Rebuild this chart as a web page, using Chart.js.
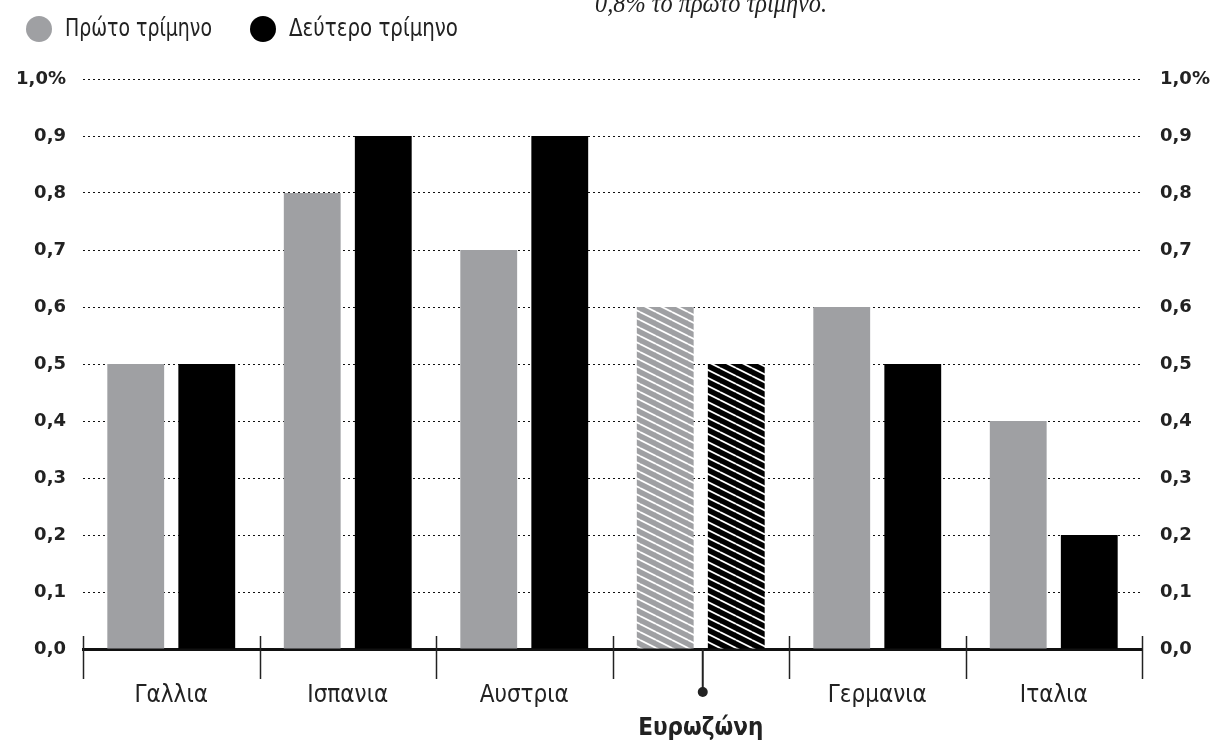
<!DOCTYPE html>
<html>
<head>
<meta charset="utf-8">
<script src="https://cdn.jsdelivr.net/npm/chart.js@4.4.1/dist/chart.umd.min.js"></script>
<style>
  html, body { margin: 0; padding: 0; background: #fff; }
  #wrap { width: 1213px; height: 744px; }
</style>
</head>
<body>
<div id="wrap"><canvas id="barChart" width="1213" height="744"></canvas></div>
<script>
// data
const categories = ['Γαλλια', 'Ισπανια', 'Αυστρια', 'Ευρωζώνη', 'Γερμανια', 'Ιταλια'];
const firstQuarter = [0.5, 0.8, 0.7, 0.6, 0.6, 0.4];
const secondQuarter = [0.5, 0.9, 0.9, 0.5, 0.5, 0.2];
const seriesNames = ['Πρώτο τρίμηνο', 'Δεύτερο τρίμηνο'];
const highlightIndex = 3;
const noteText = '0,8% το πρώτο τρίμηνο.';

const GREY = '#9fa0a3';
const BLACK = '#000000';
const TEXT = '#222222';
const LIGHT_FONT = '"Liberation Sans Narrow", "DejaVu Sans Condensed", sans-serif';

function hatch(color) {
    const c = document.createElement('canvas');
    c.width = 16;
    c.height = 8;
    const g = c.getContext('2d');
    g.fillStyle = color;
    g.fillRect(0, 0, 16, 8);
    g.strokeStyle = '#fff';
    g.lineWidth = 1.8;
    for (let k = -1; k <= 1; k++) {
        g.beginPath();
        g.moveTo(0, k * 8);
        g.lineTo(16, 8 + k * 8);
        g.stroke();
    }
    return g.createPattern(c, 'repeat');
}

function fills(color) {
    return categories.map((c, i) => i === highlightIndex ? hatch(color) : color);
}

function fmt(v) {
    if (Math.abs(v - 1) < 1e-6) return '1,0%';
    return v.toFixed(1).replace('.', ',');
}

const extras = {
    id: 'extras',
    afterDraw(chart) {
        const ctx = chart.ctx;
        const x = chart.scales.x;
        const area = chart.chartArea;
        ctx.save();

        // category separators
        ctx.strokeStyle = TEXT;
        ctx.lineWidth = 1.5;
        const step = (area.right - area.left) / categories.length;
        for (let i = 0; i <= categories.length; i++) {
            const px = Math.round(area.left + i * step) + 0.5;
            ctx.beginPath();
            ctx.moveTo(px, area.bottom - 13);
            ctx.lineTo(px, area.bottom + 30);
            ctx.stroke();
        }

        // highlighted category label
        const hx = x.getPixelForValue(highlightIndex) + 2;
        ctx.strokeStyle = TEXT;
        ctx.lineWidth = 2;
        ctx.beginPath();
        ctx.moveTo(hx, area.bottom);
        ctx.lineTo(hx, area.bottom + 43);
        ctx.stroke();
        ctx.fillStyle = TEXT;
        ctx.beginPath();
        ctx.arc(hx, area.bottom + 43, 5, 0, Math.PI * 2);
        ctx.fill();
        ctx.font = 'bold 24px ' + LIGHT_FONT;
        ctx.textAlign = 'center';
        ctx.textBaseline = 'middle';
        ctx.fillText(categories[highlightIndex], hx - 2, area.bottom + 80);

        // legend
        const colors = [GREY, BLACK];
        const lx = [39, 263];
        const lw = [147, 169];
        ctx.font = '24px ' + LIGHT_FONT;
        ctx.textAlign = 'left';
        for (let i = 0; i < 2; i++) {
            ctx.fillStyle = colors[i];
            ctx.beginPath();
            ctx.arc(lx[i], 29, 13, 0, Math.PI * 2);
            ctx.fill();
            ctx.fillStyle = TEXT;
            ctx.fillText(seriesNames[i], lx[i] + 26, 30, lw[i]);
        }

        // note at the top, cut by the edge
        ctx.font = 'italic 28px "Liberation Serif", "DejaVu Serif", serif';
        ctx.textBaseline = 'alphabetic';
        ctx.fillStyle = TEXT;
        ctx.fillText(noteText, 595, 12, 232);
        ctx.restore();
    }
};

const tickFont = { family: '"DejaVu Sans", "Liberation Sans", sans-serif', size: 18, weight: 'bold' };

new Chart(document.getElementById('barChart').getContext('2d'), {
    type: 'bar',
    data: {
        labels: categories,
        datasets: [
            {
                label: seriesNames[0],
                data: firstQuarter,
                backgroundColor: fills(GREY),
                categoryPercentage: 0.805,
                barPercentage: 0.8
            },
            {
                label: seriesNames[1],
                data: secondQuarter,
                backgroundColor: fills(BLACK),
                categoryPercentage: 0.805,
                barPercentage: 0.8
            }
        ]
    },
    options: {
        responsive: false,
        animation: false,
        layout: { padding: { top: 79, left: 0, right: 0, bottom: 0 } },
        plugins: {
            legend: { display: false },
            tooltip: { enabled: false }
        },
        scales: {
            x: {
                grid: { display: false },
                border: { display: true, color: '#111', width: 3 },
                ticks: {
                    color: TEXT,
                    padding: 24,
                    font: { family: LIGHT_FONT, size: 24 },
                    callback: (v, i) => i === highlightIndex ? '' : categories[i]
                },
                afterFit: s => { s.height = 95; }
            },
            y: {
                position: 'left',
                min: 0,
                max: 1,
                z: 1,
                border: { display: false, dash: [2, 3] },
                grid: {
                    drawTicks: false,
                    color: c => c.tick.value === 0 ? 'rgba(0,0,0,0)' : '#111',
                    lineWidth: 1
                },
                ticks: {
                    stepSize: 0.1,
                    padding: 17,
                    color: TEXT,
                    font: tickFont,
                    callback: v => fmt(v)
                },
                afterFit: s => { s.width = 83; }
            },
            y2: {
                position: 'right',
                min: 0,
                max: 1,
                border: { display: false },
                grid: { display: false, drawTicks: false },
                ticks: {
                    stepSize: 0.1,
                    padding: 18,
                    color: TEXT,
                    font: tickFont,
                    callback: v => fmt(v)
                },
                afterFit: s => { s.width = 71; }
            }
        }
    },
    plugins: [extras]
});
</script>
</body>
</html>
